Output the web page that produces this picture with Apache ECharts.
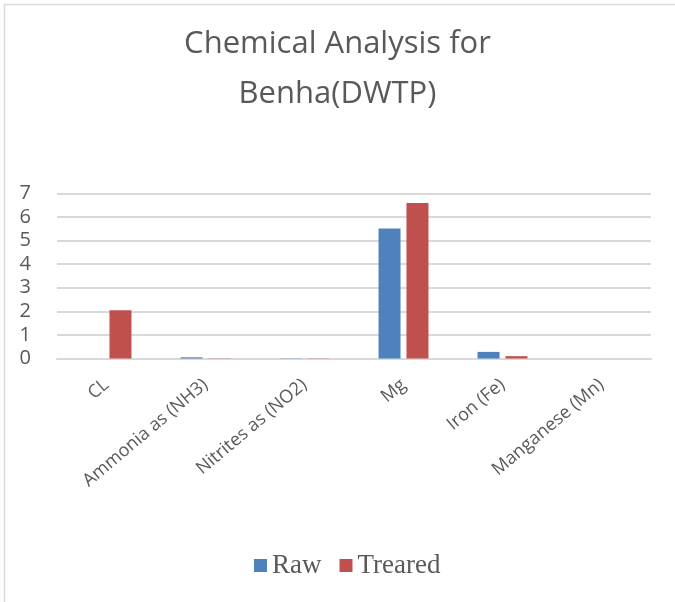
<!DOCTYPE html>
<html>
<head>
<meta charset="utf-8">
<script src="https://cdn.jsdelivr.net/npm/echarts@6/dist/echarts.min.js"></script>
<style>
  html, body { margin: 0; padding: 0; background: #fff; }
  #chart-container { width: 675px; height: 602px; }
</style>
</head>
<body>
<div id="chart-container"></div>
<script>
var dom = document.getElementById("chart-container");
var myChart = echarts.init(dom, null, { renderer: "canvas" });

const categories = ["CL", "Ammonia as (NH3)", "Nitrites as (NO2)", "Mg", "Iron (Fe)", "Manganese (Mn)"];
const rawValues = [0, 0.05, 0.01, 5.52, 0.28, 0];
const treatedValues = [2.05, 0.01, 0.01, 6.6, 0.1, 0];
const yTicks = [0, 1, 2, 3, 4, 5, 6, 7];

const textColor = "#595959";

var option = {
  animation: false,
  title: {
    text: "Chemical Analysis for\nBenha(DWTP)",
    left: "center",
    top: 14,
    textStyle: {
      fontFamily: "Open Sans",
      fontWeight: "normal",
      fontSize: 31,
      lineHeight: 50,
      color: textColor
    }
  },
  graphic: [
    {
      type: "rect",
      shape: { x: 4.5, y: 4.5, width: 700, height: 700 },
      style: { fill: "none", stroke: "#d9d9d9", lineWidth: 1.5 },
      silent: true
    }
  ],
  legend: {
    bottom: 18,
    left: 249,
    itemWidth: 13,
    itemHeight: 13,
    itemGap: 18,
    icon: "rect",
    textStyle: {
      fontFamily: "Liberation Serif",
      fontSize: 27,
      color: textColor
    },
    data: ["Raw", "Treared"]
  },
  grid: {
    left: 57,
    right: 24,
    top: 193.5,
    height: 165
  },
  xAxis: {
    type: "category",
    data: categories,
    axisLine: { lineStyle: { color: "#d9d9d9", width: 2 } },
    axisTick: { show: false },
    axisLabel: {
      interval: 0,
      rotate: 40,
      margin: 24,
      fontFamily: "Open Sans",
      fontSize: 18,
      color: textColor
    }
  },
  yAxis: {
    type: "value",
    min: yTicks[0],
    max: yTicks[yTicks.length - 1],
    interval: 1,
    axisLine: { show: false },
    axisTick: { show: false },
    axisLabel: {
      margin: 26,
      fontFamily: "Open Sans",
      fontSize: 20,
      color: textColor
    },
    splitLine: { lineStyle: { color: "#d9d9d9", width: 2 } }
  },
  series: [
    {
      name: "Raw",
      type: "bar",
      data: rawValues,
      barWidth: 22,
      barGap: "27%",
      itemStyle: { color: "#4f81bd" }
    },
    {
      name: "Treared",
      type: "bar",
      data: treatedValues,
      barWidth: 22,
      itemStyle: { color: "#c0504d" }
    }
  ]
};

myChart.setOption(option);
window.addEventListener("resize", myChart.resize);
</script>
</body>
</html>
